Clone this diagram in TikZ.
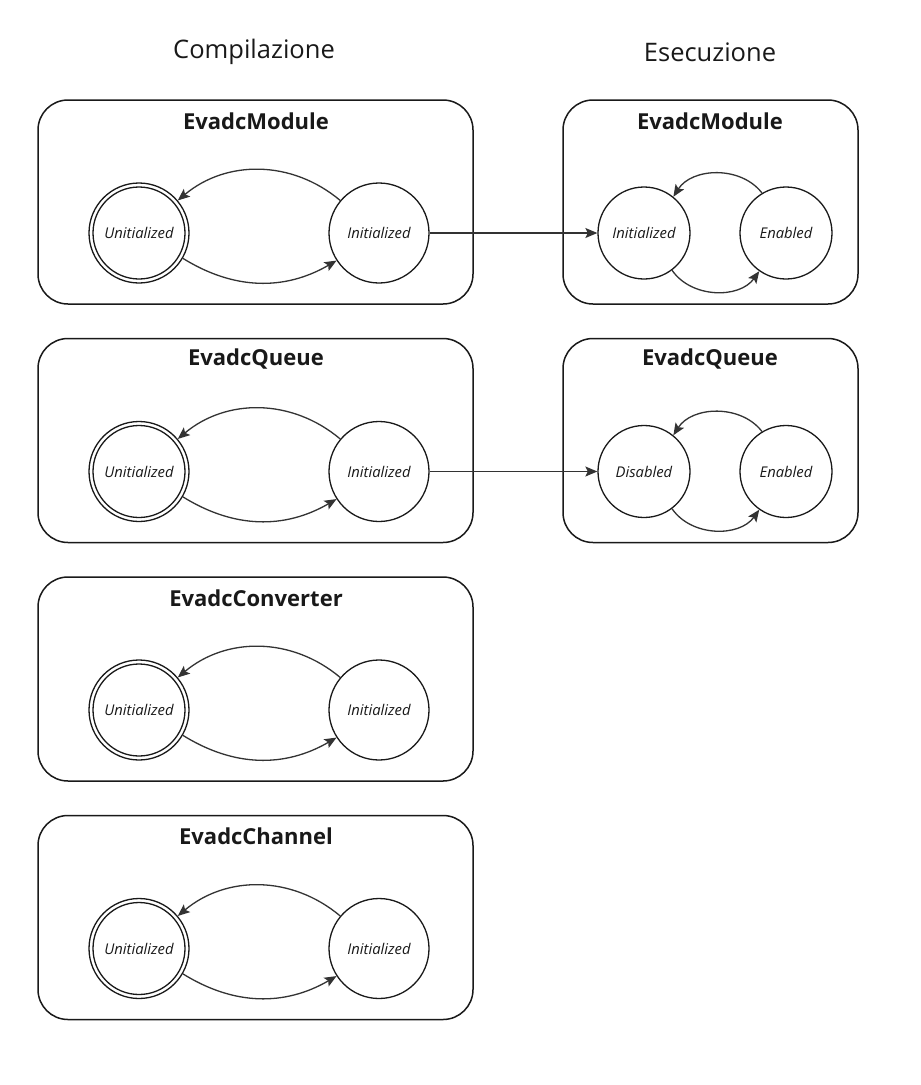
\documentclass[tikz,border=0pt]{standalone}
\usepackage{fontspec}
\setmainfont{Open Sans}
\usetikzlibrary{arrows.meta,positioning}
\tikzset{
  x=1pt,y=-1pt,
  box/.style={draw=black!90,line width=1.5pt,rounded corners=30pt},
  boxtitle/.style={font=\fontsize{22}{26}\selectfont\bfseries,text=black!90,anchor=center,inner sep=0pt},
  head/.style={font=\fontsize{25.5}{30}\selectfont,text=black!90,anchor=center,inner sep=0pt},
  bigstate/.style={circle,draw=black!90,line width=1.3pt,minimum size=100pt,inner sep=0pt,font=\fontsize{14.8}{17}\selectfont\itshape,text=black!90},
  smallstate/.style={circle,draw=black!90,line width=1.3pt,minimum size=92pt,inner sep=0pt,font=\fontsize{14.8}{17}\selectfont\itshape,text=black!90},
  arr/.style={draw=black!80,line width=1.3pt,-{Stealth[length=12pt,width=10pt,inset=2.5pt]}},
}
\begin{document}
\begin{tikzpicture}
\useasboundingbox[fill=white] (0,0) rectangle (921,1085);
\node[head] (hc) at (254,52) {Compilazione};
\node[head] (he) at (710,52) {Esecuzione};
% left column
\foreach \i/\dy/\name in {1/0/EvadcModule,2/238.5/EvadcQueue,3/477/EvadcConverter,4/715.5/EvadcChannel}{
  \draw[box] (38,100+\dy) rectangle (473,304+\dy);
  \node[boxtitle] (t\i) at (256,121+\dy) {\name};
  \node[bigstate] (u\i) at (139,233+\dy) {Unitialized};
  \draw[black!90,line width=1.3pt] (u\i.center) circle (46);
  \node[bigstate] (n\i) at (379,233+\dy) {Initialized};
  \draw[arr] (n\i.140) to[bend right=40] (u\i.40);
  \draw[arr] (u\i.-30) to[bend right=31] (n\i.213);
}
% right column
\draw[box] (563,100) rectangle (858,304);
\node[boxtitle] (rt1) at (710,121) {EvadcModule};
\node[smallstate] (ra1) at (644,233) {Initialized};
\node[smallstate] (rb1) at (786,233) {Enabled};
\draw[arr] (rb1.121) to[bend right=55] (ra1.51);
\draw[arr] (ra1.-53) to[bend right=55] (rb1.235);
\draw[box] (563,338.5) rectangle (858,542.5);
\node[boxtitle] (rt2) at (710,359.5) {EvadcQueue};
\node[smallstate] (ra2) at (644,471.5) {Disabled};
\node[smallstate] (rb2) at (786,471.5) {Enabled};
\draw[arr] (rb2.121) to[bend right=55] (ra2.51);
\draw[arr] (ra2.-53) to[bend right=55] (rb2.235);
% cross connectors
\draw[arr] (n1.east) -- (ra1.west);
\draw[arr] (n2.east) -- (ra2.west);
\end{tikzpicture}
\end{document}
